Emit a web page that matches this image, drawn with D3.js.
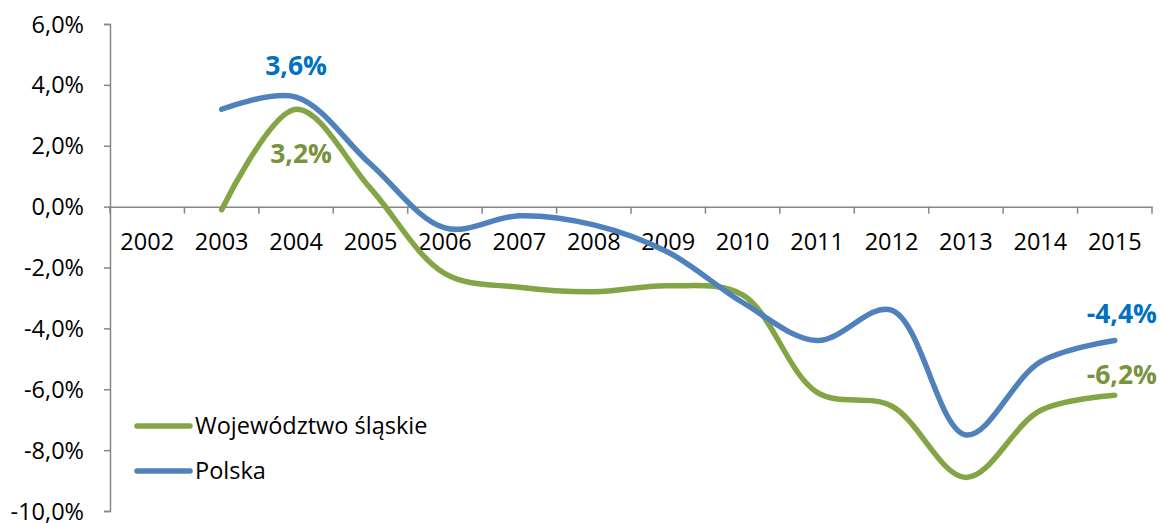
<!DOCTYPE html>
<html><head><meta charset="utf-8">
<script src="https://cdn.jsdelivr.net/npm/d3@7"></script>
<style>body{margin:0;background:#fff}svg{display:block}text{font-family:"Open Sans","Noto Sans",sans-serif}</style>
</head><body><svg id="c" width="1161" height="523"></svg>
<script>
const years = [2002,2003,2004,2005,2006,2007,2008,2009,2010,2011,2012,2013,2014,2015];
const dataYears = [2003,2004,2005,2006,2007,2008,2009,2010,2011,2012,2013,2014,2015];
const slaskie = [-0.1,3.2,0.6,-2.2,-2.65,-2.8,-2.6,-2.9,-6.1,-6.55,-8.9,-6.7,-6.2];
const polska  = [3.2,3.6,1.4,-0.7,-0.3,-0.6,-1.5,-3.15,-4.4,-3.4,-7.5,-5.1,-4.4];
const yTicks = [-10,-8,-6,-4,-2,0,2,4,6];
const seriesNames = ["Województwo śląskie","Polska"];
const lineColors = ["#84A546","#4F81BD"];
const labelColors = ["#77933C","#0070C0"];

const svg = d3.select("#c");
const x = d3.scaleBand().domain(years).range([110,1152]).padding(0);
const y = d3.scaleLinear().domain([-10,6]).range([511,24]);
const cx = d => x(d) + x.bandwidth()/2;
const axisColor = "#868686";
const fmt = v => d3.format(".1f")(v).replace(".",",").replace("−","-") + "%";
const fs = 23.5;

// Y axis
const ya = svg.append("g").attr("transform","translate(110,0)")
  .call(d3.axisLeft(y).tickValues(yTicks).tickSize(6).tickPadding(20).tickFormat(fmt));
ya.select(".domain").attr("stroke",axisColor).attr("stroke-width",1.5);
ya.selectAll(".tick line").attr("stroke",axisColor).attr("stroke-width",1.5);
ya.selectAll(".tick text").attr("font-size",fs).attr("fill","#000").attr("dy","0.34em");

// X axis line + boundary ticks
const xa = svg.append("g").attr("transform",`translate(0,${y(0)})`)
  .call(d3.axisBottom(x).tickSize(0).tickPadding(0).tickFormat(d=>d));
xa.select(".domain").attr("stroke",axisColor).attr("stroke-width",1.5);
xa.selectAll(".tick text").attr("font-size",fs).attr("fill","#000").attr("y",43).attr("dy",0);
const bounds = years.map(d=>x(d)).concat([x(years[years.length-1])+x.bandwidth()]);
xa.selectAll(".bt").data(bounds).enter().append("line")
  .attr("x1",d=>d).attr("x2",d=>d).attr("y1",0).attr("y2",7)
  .attr("stroke",axisColor).attr("stroke-width",1.5);

// Lines
const line = d3.line().x((d,i)=>cx(dataYears[i])).y(d=>y(d)).curve(d3.curveCatmullRom.alpha(0.5));
[slaskie,polska].forEach((s,k)=>{
  svg.append("path").datum(s).attr("d",line).attr("fill","none")
    .attr("stroke",lineColors[k]).attr("stroke-width",5.5).attr("stroke-linecap","round");
});

// Data labels
const labels = [
  {s:1,i:1,dx:0,y:75},
  {s:0,i:1,dx:5,y:163},
  {s:1,i:12,dx:7,y:323},
  {s:0,i:12,dx:7,y:384}
];
labels.forEach(l=>{
  const v = [slaskie,polska][l.s][l.i];
  svg.append("text").attr("x",cx(dataYears[l.i])+l.dx).attr("y",l.y)
    .attr("text-anchor","middle").attr("font-size",26.5).attr("font-weight","bold")
    .attr("fill",labelColors[l.s]).text(fmt(v));
});

// Legend
const lg = svg.append("g");
seriesNames.forEach((n,k)=>{
  const ly = 426 + k*45;
  lg.append("line").attr("x1",137).attr("x2",190).attr("y1",ly).attr("y2",ly)
    .attr("stroke",lineColors[k]).attr("stroke-width",5.5).attr("stroke-linecap","round");
  lg.append("text").attr("x",195).attr("y",ly+8).attr("font-size",fs).attr("fill","#000").text(n);
});
</script></body></html>
